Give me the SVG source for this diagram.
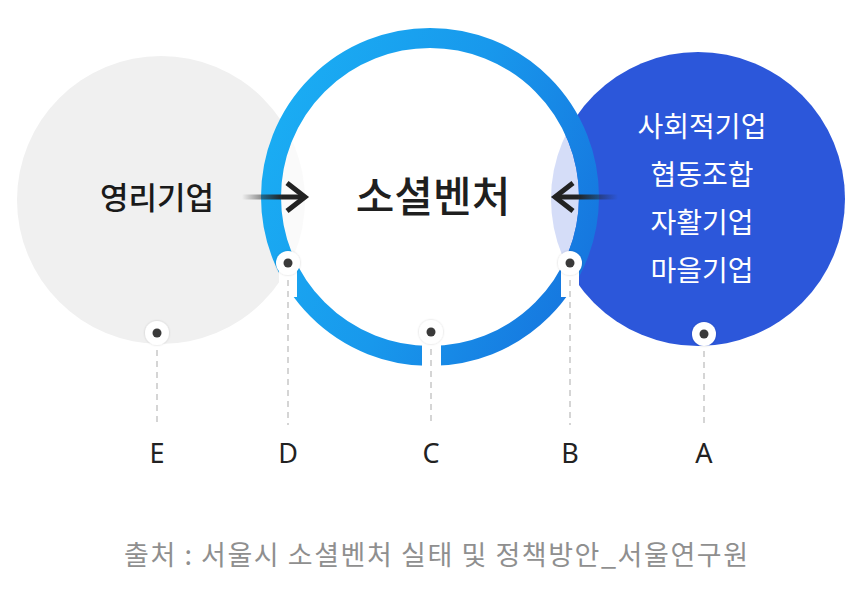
<svg xmlns="http://www.w3.org/2000/svg" width="854" height="590" viewBox="0 0 854 590">
  <defs>
    <linearGradient id="ringGrad" x1="0" y1="0.3" x2="1" y2="0.7">
      <stop offset="0" stop-color="#1aacf3"/>
      <stop offset="0.5" stop-color="#1898ec"/>
      <stop offset="1" stop-color="#1677df"/>
    </linearGradient>
    <linearGradient id="shaftL" x1="0" y1="0" x2="1" y2="0">
      <stop offset="0" stop-color="#222" stop-opacity="0"/>
      <stop offset="0.65" stop-color="#222" stop-opacity="1"/>
      <stop offset="1" stop-color="#222" stop-opacity="1"/>
    </linearGradient>
    <linearGradient id="shaftR" x1="1" y1="0" x2="0" y2="0">
      <stop offset="0" stop-color="#222" stop-opacity="0"/>
      <stop offset="0.65" stop-color="#222" stop-opacity="1"/>
      <stop offset="1" stop-color="#222" stop-opacity="1"/>
    </linearGradient>
    <clipPath id="innerClip">
      <circle cx="430" cy="197" r="149"/>
    </clipPath>
    <filter id="halo" x="-50%" y="-50%" width="200%" height="200%">
      <feDropShadow dx="0" dy="0" stdDeviation="1.2" flood-color="#000" flood-opacity="0.18"/>
    </filter>
  </defs>
  <style>
    .cjk { font-family: "Noto Sans CJK KR", "Noto Sans", sans-serif; }
    .lbl { font-family: "Noto Sans", "Liberation Sans", sans-serif; font-size: 27px; fill: #222; text-anchor: middle; }
    .dash { stroke: #c8c8c8; stroke-width: 1.5; stroke-dasharray: 6 5; fill: none; }
    .halo { fill: #fff; filter: url(#halo); }
    .dot { fill: #3a3a3a; }
    .chev { fill: none; stroke: #222; stroke-width: 5; stroke-linejoin: miter; stroke-linecap: butt; }
    .rtxt { font-size: 28px; fill: #fff; text-anchor: middle; font-weight: 400; }
  </style>
  <rect width="854" height="590" fill="#fff"/>

  <g id="node-E">
    <circle cx="161" cy="200" r="144" fill="#f0f0f0"/>
  </g>
  <g id="node-A">
    <circle cx="698" cy="199" r="147" fill="#2c57da"/>
  </g>
  <g id="node-C">
    <circle cx="430" cy="197" r="149" fill="#fff"/>
    <g clip-path="url(#innerClip)">
      <circle cx="161" cy="200" r="144" fill="#f0f0f0" opacity="0.35"/>
      <circle cx="698" cy="199" r="147" fill="#2c57da" opacity="0.2"/>
    </g>
    <circle cx="430" cy="197" r="159" fill="none" stroke="url(#ringGrad)" stroke-width="20"/>
  </g>

  <g id="connectors">
    <rect x="279" y="263" width="18" height="34" fill="#fff"/>
    <rect x="561" y="263" width="18" height="34" fill="#fff"/>
    <rect x="422" y="332" width="19" height="40" fill="#fff"/>
    <line class="dash" x1="157" y1="350" x2="157" y2="425"/>
    <line class="dash" x1="288" y1="280" x2="288" y2="425"/>
    <line class="dash" x1="431" y1="349" x2="431" y2="425"/>
    <line class="dash" x1="570" y1="280" x2="570" y2="425"/>
    <line class="dash" x1="704" y1="351" x2="704" y2="425"/>
    <circle class="halo" cx="157" cy="333" r="12"/>
    <circle class="dot" cx="157" cy="333" r="4.5"/>
    <circle class="halo" cx="288" cy="263" r="12"/>
    <circle class="dot" cx="288" cy="263" r="4.5"/>
    <circle class="halo" cx="431" cy="332" r="12"/>
    <circle class="dot" cx="431" cy="332" r="4.5"/>
    <circle class="halo" cx="570" cy="263" r="12"/>
    <circle class="dot" cx="570" cy="263" r="4.5"/>
    <circle class="halo" cx="704" cy="334" r="12"/>
    <circle class="dot" cx="704" cy="334" r="4.5"/>
    <rect x="242" y="194.5" width="62" height="5" fill="url(#shaftL)"/>
    <polyline class="chev" points="287,183 305,197 287,211"/>
    <rect x="556" y="194.5" width="62" height="5" fill="url(#shaftR)"/>
    <polyline class="chev" points="573,183 555,197 573,211"/>
  </g>

  <g id="text-E">
    <text class="cjk" x="157" y="209" font-size="31" font-weight="500" fill="#1a1a1a" text-anchor="middle">영리기업</text>
  </g>
  <g id="text-C">
    <text class="cjk" x="433" y="212" font-size="42" font-weight="500" fill="#1f1f1f" text-anchor="middle">소셜벤처</text>
  </g>
  <g id="text-A">
    <text class="cjk rtxt" x="702" y="137">사회적기업</text>
    <text class="cjk rtxt" x="702" y="185">협동조합</text>
    <text class="cjk rtxt" x="702" y="233">자활기업</text>
    <text class="cjk rtxt" x="702" y="281">마을기업</text>
  </g>
  <g id="labels">
    <text class="lbl" x="157" y="463">E</text>
    <text class="lbl" x="288" y="463">D</text>
    <text class="lbl" x="431" y="463">C</text>
    <text class="lbl" x="570" y="463">B</text>
    <text class="lbl" x="704" y="463">A</text>
  </g>
  <g id="footer">
    <text class="cjk" x="124" y="565" font-size="27" fill="#8f8f8f" textLength="624" lengthAdjust="spacing">출처 : 서울시 소셜벤처 실태 및 정책방안_서울연구원</text>
  </g>
</svg>
